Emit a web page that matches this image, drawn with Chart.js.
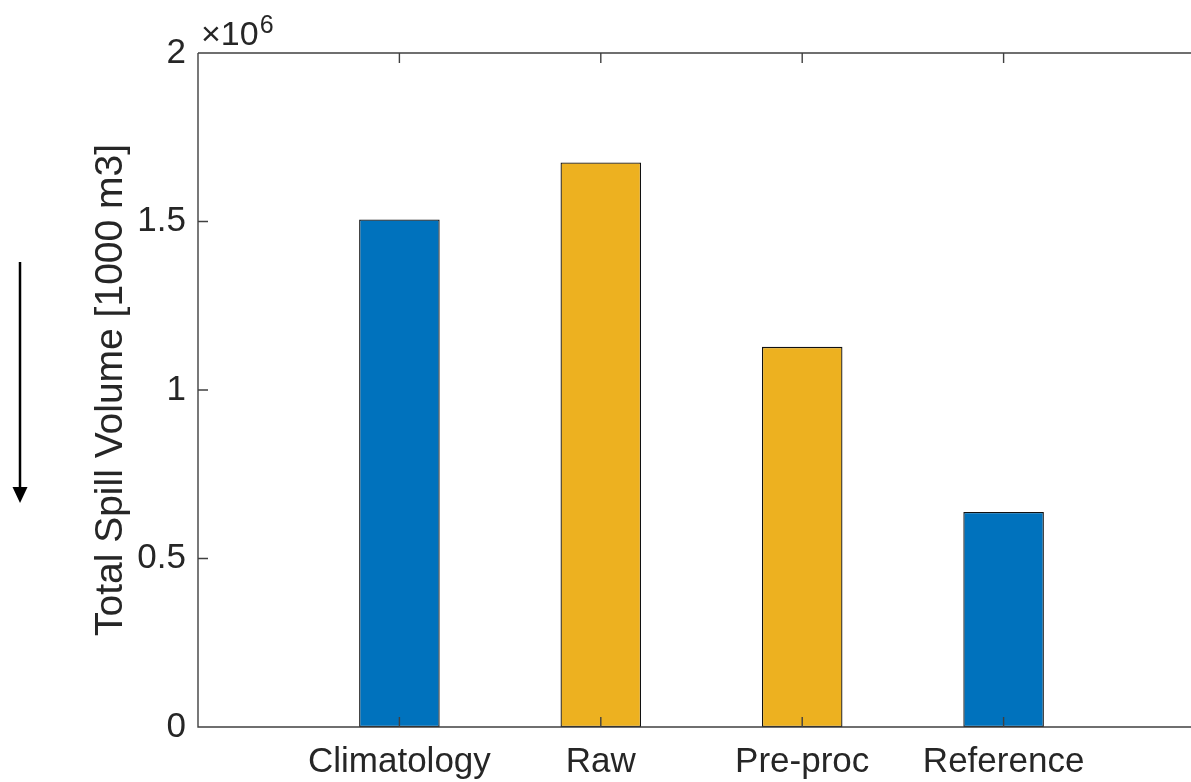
<!DOCTYPE html>
<html>
<head>
<meta charset="utf-8">
<script src="https://cdn.jsdelivr.net/npm/chart.js@4.4.1/dist/chart.umd.min.js"></script>
<style>
  html, body { margin: 0; padding: 0; background: #fff; overflow: hidden; }
  #wrap { width: 1191px; height: 782px; overflow: hidden; }
</style>
</head>
<body>
<div id="wrap"><canvas id="spill" width="1215" height="782"></canvas></div>
<script>
// bar data
const categories = ["Climatology", "Raw", "Pre-proc", "Reference"];
const positions = [1, 2, 3, 4];
const spillVolume = [1506000, 1675000, 1128000, 638000];
const barColors = ["#0072BD", "#EDB120", "#EDB120", "#0072BD"];

// y axis ticks (shown in units of 10^6)
const yTicks = [0, 500000, 1000000, 1500000, 2000000];
const yTickLabels = ["0", "0.5", "1", "1.5", "2"];

const FONT = "'Liberation Sans', Arial, Helvetica, sans-serif";
const TEXT = "#262626";
const AXIS = "#404040";

// box, inward ticks, exponent, y title and the arrow on the left
const decorations = {
  id: "decorations",
  afterDraw(chart) {
    const { ctx, chartArea: a, scales } = chart;
    const x = scales.x, y = scales.y;
    ctx.save();
    ctx.strokeStyle = AXIS;
    ctx.lineWidth = 1.4;
    ctx.beginPath();
    ctx.moveTo(a.left, a.top);
    ctx.lineTo(a.right, a.top);
    ctx.moveTo(a.left, a.top);
    ctx.lineTo(a.left, a.bottom);
    ctx.lineTo(a.right, a.bottom);
    positions.forEach(p => {
      const px = x.getPixelForValue(p);
      ctx.moveTo(px, a.bottom);
      ctx.lineTo(px, a.bottom - 10);
      ctx.moveTo(px, a.top);
      ctx.lineTo(px, a.top + 10);
    });
    yTicks.forEach(v => {
      const py = y.getPixelForValue(v);
      ctx.moveTo(a.left, py);
      ctx.lineTo(a.left + 10, py);
    });
    ctx.stroke();

    // x10^6 multiplier
    ctx.fillStyle = TEXT;
    ctx.textAlign = "left";
    ctx.textBaseline = "alphabetic";
    ctx.font = "34px " + FONT;
    ctx.fillText("\u00d710", a.left + 3, 45);
    const w = ctx.measureText("\u00d710").width;
    ctx.font = "25px " + FONT;
    ctx.fillText("6", a.left + 3 + w + 1, 33);

    // y axis title
    ctx.save();
    ctx.translate(122, (a.top + a.bottom) / 2);
    ctx.rotate(-Math.PI / 2);
    ctx.font = "39px " + FONT;
    ctx.textAlign = "center";
    ctx.fillText("Total Spill Volume [1000 m3]", 0, 0);
    ctx.restore();

    // downward arrow
    ctx.strokeStyle = "#000";
    ctx.fillStyle = "#000";
    ctx.lineWidth = 2.5;
    ctx.beginPath();
    ctx.moveTo(20, 262);
    ctx.lineTo(20, 489);
    ctx.stroke();
    ctx.beginPath();
    ctx.moveTo(12.5, 487);
    ctx.lineTo(27.5, 487);
    ctx.lineTo(20, 503);
    ctx.closePath();
    ctx.fill();
    ctx.restore();
  }
};

new Chart(document.getElementById("spill").getContext("2d"), {
  type: "bar",
  data: {
    datasets: [{
      data: positions.map((p, i) => ({ x: p, y: spillVolume[i] })),
      backgroundColor: barColors,
      borderColor: "#111",
      borderWidth: 1.3,
      borderSkipped: false,
      categoryPercentage: 1,
      barPercentage: 0.4
    }]
  },
  options: {
    responsive: false,
    devicePixelRatio: 1,
    animation: false,
    layout: { padding: { left: 0, top: 53, right: 10, bottom: 0 } },
    plugins: { legend: { display: false }, tooltip: { enabled: false } },
    scales: {
      x: {
        type: "linear",
        min: 0,
        max: 5,
        offset: false,
        grid: { display: false },
        border: { display: false },
        afterBuildTicks: s => { s.ticks = positions.map(v => ({ value: v })); },
        afterFit: s => { s.height = 55; },
        ticks: {
          padding: 6,
          maxRotation: 0,
          color: TEXT,
          font: { family: FONT, size: 35 },
          callback: v => categories[positions.indexOf(v)]
        }
      },
      y: {
        min: 0,
        max: 2000000,
        grid: { display: false },
        border: { display: false },
        afterBuildTicks: s => { s.ticks = yTicks.map(v => ({ value: v })); },
        afterFit: s => { s.width = 198; },
        ticks: {
          padding: 4,
          color: TEXT,
          font: { family: FONT, size: 35 },
          callback: v => yTickLabels[yTicks.indexOf(v)]
        }
      }
    }
  },
  plugins: [decorations]
});
</script>
</body>
</html>
